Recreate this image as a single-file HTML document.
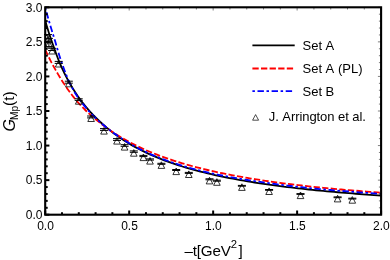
<!DOCTYPE html>
<html><head><meta charset="utf-8"><title>GMp</title>
<style>
html,body{margin:0;padding:0;background:#fff;}
body{width:390px;height:260px;overflow:hidden;}
svg{display:block;will-change:transform}
text{font-family:"Liberation Sans",sans-serif;fill:#000;font-kerning:none;}
</style></head><body>
<svg width="390" height="260" viewBox="0 0 390 260">
<rect width="390" height="260" fill="#fff"/>
<defs><clipPath id="c"><rect x="45.2" y="7.3" width="335.90000000000003" height="207.39999999999998"/></clipPath></defs>
<g clip-path="url(#c)" fill="none" stroke-linejoin="round"><g transform="translate(0,0.3)">
<path d="M45.20,20.21 L46.49,24.73 L47.78,29.04 L49.08,33.14 L50.37,37.07 L51.66,40.85 L52.95,44.51 L54.24,48.12 L55.54,51.70 L56.83,55.24 L58.12,58.68 L59.41,61.93 L60.70,64.98 L62.00,67.85 L63.29,70.61 L64.58,73.26 L65.87,75.81 L67.16,78.28 L68.45,80.66 L69.75,82.97 L71.04,85.20 L72.33,87.36 L73.62,89.45 L74.91,91.47 L76.21,93.44 L77.50,95.34 L78.79,97.19 L80.08,98.99 L81.37,100.73 L82.67,102.43 L83.96,104.08 L85.25,105.69 L86.54,107.25 L87.83,108.77 L89.13,110.26 L90.42,111.70 L91.71,113.11 L93.00,114.49 L94.29,115.84 L95.59,117.15 L99.20,120.67 L102.81,123.98 L106.43,127.10 L110.04,130.06 L113.66,132.87 L117.27,135.53 L120.88,138.04 L124.50,140.42 L128.11,142.67 L131.73,144.81 L135.34,146.84 L138.95,148.77 L142.57,150.60 L146.18,152.36 L149.80,154.03 L153.41,155.62 L157.02,157.15 L160.64,158.61 L164.25,160.01 L167.87,161.35 L171.48,162.63 L175.10,163.87 L178.71,165.05 L182.32,166.19 L185.94,167.29 L189.55,168.34 L193.17,169.36 L196.78,170.33 L200.39,171.28 L204.01,172.19 L207.62,173.06 L211.24,173.91 L214.85,174.73 L218.46,175.52 L222.08,176.29 L225.69,177.03 L229.31,177.75 L232.92,178.44 L236.54,179.12 L240.15,179.77 L243.76,180.40 L247.38,181.02 L250.99,181.61 L254.61,182.19 L258.22,182.75 L261.83,183.30 L265.45,183.83 L269.06,184.35 L272.68,184.85 L276.29,185.33 L279.90,185.81 L283.52,186.27 L287.13,186.72 L290.75,187.16 L294.36,187.59 L297.98,188.00 L301.59,188.41 L305.20,188.80 L308.82,189.19 L312.43,189.56 L316.05,189.93 L319.66,190.29 L323.27,190.64 L326.89,190.98 L330.50,191.31 L334.12,191.64 L337.73,191.96 L341.34,192.27 L344.96,192.57 L348.57,192.87 L352.19,193.16 L355.80,193.44 L359.42,193.72 L363.03,193.99 L366.64,194.26 L370.26,194.52 L373.87,194.77 L377.49,195.02 L381.10,195.27" stroke="#000" stroke-width="1.8"/>
<path d="M45.20,49.36 L46.49,52.14 L47.78,54.84 L49.08,57.47 L50.37,60.02 L51.66,62.51 L52.95,64.94 L54.24,67.30 L55.54,69.61 L56.83,71.86 L58.12,74.06 L59.41,76.20 L60.70,78.30 L62.00,80.36 L63.29,82.36 L64.58,84.32 L65.87,86.24 L67.16,88.12 L68.45,89.95 L69.75,91.73 L71.04,93.48 L72.33,95.17 L73.62,96.82 L74.91,98.43 L76.21,99.99 L77.50,101.50 L78.79,102.97 L80.08,104.40 L81.37,105.78 L82.67,107.13 L83.96,108.43 L85.25,109.70 L86.54,110.94 L87.83,112.15 L89.13,113.34 L90.42,114.50 L91.71,115.63 L93.00,116.75 L94.29,117.85 L95.59,118.93 L99.20,121.86 L102.81,124.67 L106.43,127.35 L110.04,129.92 L113.66,132.36 L117.27,134.69 L120.88,136.91 L124.50,139.03 L128.11,141.05 L131.73,142.98 L135.34,144.83 L138.95,146.59 L142.57,148.28 L146.18,149.91 L149.80,151.46 L153.41,152.95 L157.02,154.38 L160.64,155.76 L164.25,157.08 L167.87,158.35 L171.48,159.58 L175.10,160.76 L178.71,161.90 L182.32,163.00 L185.94,164.06 L189.55,165.08 L193.17,166.07 L196.78,167.02 L200.39,167.94 L204.01,168.84 L207.62,169.70 L211.24,170.54 L214.85,171.35 L218.46,172.13 L222.08,172.89 L225.69,173.63 L229.31,174.35 L232.92,175.04 L236.54,175.72 L240.15,176.37 L243.76,177.01 L247.38,177.63 L250.99,178.23 L254.61,178.82 L258.22,179.39 L261.83,179.94 L265.45,180.48 L269.06,181.00 L272.68,181.52 L276.29,182.01 L279.90,182.50 L283.52,182.97 L287.13,183.44 L290.75,183.89 L294.36,184.33 L297.98,184.75 L301.59,185.17 L305.20,185.58 L308.82,185.98 L312.43,186.37 L316.05,186.75 L319.66,187.12 L323.27,187.49 L326.89,187.84 L330.50,188.19 L334.12,188.53 L337.73,188.86 L341.34,189.19 L344.96,189.51 L348.57,189.82 L352.19,190.12 L355.80,190.42 L359.42,190.72 L363.03,191.00 L366.64,191.28 L370.26,191.56 L373.87,191.83 L377.49,192.09 L381.10,192.35" stroke="#f00" stroke-width="1.8" stroke-dasharray="6.3 2.3"/>
<path d="M45.20,6.99 L46.49,11.85 L47.78,16.55 L49.08,21.07 L50.37,25.45 L51.66,29.70 L52.95,33.83 L54.24,37.96 L55.54,42.27 L56.83,46.72 L58.12,51.15 L59.41,55.41 L60.70,59.42 L62.00,63.16 L63.29,66.74 L64.58,70.26 L65.87,73.67 L67.16,76.92 L68.45,79.97 L69.75,82.79 L71.04,85.35 L72.33,87.79 L73.62,90.14 L74.91,92.37 L76.21,94.50 L77.50,96.50 L78.79,98.37 L80.08,100.14 L81.37,101.85 L82.67,103.50 L83.96,105.10 L85.25,106.65 L86.54,108.16 L87.83,109.62 L89.13,111.04 L90.42,112.42 L91.71,113.77 L93.00,115.09 L94.29,116.37 L95.59,117.64 L99.20,121.01 L102.81,124.16 L106.43,127.13 L110.04,129.95 L113.66,132.64 L117.27,135.20 L120.88,137.66 L124.50,140.00 L128.11,142.23 L131.73,144.36 L135.34,146.38 L138.95,148.30 L142.57,150.12 L146.18,151.86 L149.80,153.51 L153.41,155.08 L157.02,156.58 L160.64,158.02 L164.25,159.39 L167.87,160.71 L171.48,161.97 L175.10,163.18 L178.71,164.33 L182.32,165.45 L185.94,166.52 L189.55,167.54 L193.17,168.53 L196.78,169.48 L200.39,170.40 L204.01,171.28 L207.62,172.13 L211.24,172.94 L214.85,173.72 L218.46,174.47 L222.08,175.20 L225.69,175.90 L229.31,176.59 L232.92,177.25 L236.54,177.89 L240.15,178.51 L243.76,179.11 L247.38,179.70 L250.99,180.28 L254.61,180.84 L258.22,181.39 L261.83,181.92 L265.45,182.44 L269.06,182.95 L272.68,183.44 L276.29,183.92 L279.90,184.39 L283.52,184.84 L287.13,185.28 L290.75,185.71 L294.36,186.13 L297.98,186.53 L301.59,186.92 L305.20,187.30 L308.82,187.68 L312.43,188.04 L316.05,188.39 L319.66,188.73 L323.27,189.06 L326.89,189.38 L330.50,189.70 L334.12,190.01 L337.73,190.31 L341.34,190.61 L344.96,190.90 L348.57,191.18 L352.19,191.47 L355.80,191.74 L359.42,192.01 L363.03,192.27 L366.64,192.53 L370.26,192.79 L373.87,193.03 L377.49,193.28 L381.10,193.52" stroke="#00f" stroke-width="1.8" stroke-dasharray="2.5 2.6 6.4 2.6"/>
</g></g>
<g><path d="M44.7,42.9 L48.0,36.3 L51.3,42.9 Z" fill="none" stroke="#000" stroke-width="0.8"/><path d="M44.0,34.6 H52.0 M44.0,42.0 H52.0 M48.0,34.6 V42.0" fill="none" stroke="#000" stroke-width="1.0"/><path d="M45.6,47.1 L48.9,40.5 L52.2,47.1 Z" fill="none" stroke="#000" stroke-width="0.8"/><path d="M44.9,38.4 H52.9 M44.9,46.6 H52.9 M48.9,38.4 V46.6" fill="none" stroke="#000" stroke-width="1.0"/><path d="M48.8,54.0 L52.1,47.4 L55.4,54.0 Z" fill="none" stroke="#000" stroke-width="0.8"/><path d="M48.1,48.3 H56.1 M48.1,50.5 H56.1 M52.1,48.3 V50.5" fill="none" stroke="#000" stroke-width="1.0"/><path d="M55.4,67.0 L58.7,60.4 L62.0,67.0 Z" fill="none" stroke="#000" stroke-width="0.8"/><path d="M54.7,61.4 H62.7 M54.7,63.4 H62.7 M58.7,61.4 V63.4" fill="none" stroke="#000" stroke-width="1.0"/><path d="M65.5,86.8 L68.8,80.2 L72.1,86.8 Z" fill="none" stroke="#000" stroke-width="0.8"/><path d="M64.8,81.2 H72.8 M64.8,83.2 H72.8 M68.8,81.2 V83.2" fill="none" stroke="#000" stroke-width="1.0"/><path d="M75.4,104.2 L78.7,97.6 L82.0,104.2 Z" fill="none" stroke="#000" stroke-width="0.8"/><path d="M74.7,98.8 H82.7 M74.7,100.4 H82.7 M78.7,98.8 V100.4" fill="none" stroke="#000" stroke-width="1.0"/><path d="M87.8,121.5 L91.1,114.9 L94.4,121.5 Z" fill="none" stroke="#000" stroke-width="0.8"/><path d="M87.1,116.0 H95.1 M87.1,117.9 H95.1 M91.1,116.0 V117.9" fill="none" stroke="#000" stroke-width="1.0"/><path d="M100.7,134.1 L104.0,127.5 L107.3,134.1 Z" fill="none" stroke="#000" stroke-width="0.8"/><path d="M100.0,128.6 H108.0 M100.0,130.4 H108.0 M104.0,128.6 V130.4" fill="none" stroke="#000" stroke-width="1.0"/><path d="M113.7,144.1 L117.0,137.5 L120.3,144.1 Z" fill="none" stroke="#000" stroke-width="0.8"/><path d="M113.0,138.6 H121.0 M113.0,140.4 H121.0 M117.0,138.6 V140.4" fill="none" stroke="#000" stroke-width="1.0"/><path d="M121.3,150.1 L124.6,143.5 L127.9,150.1 Z" fill="none" stroke="#000" stroke-width="0.8"/><path d="M120.6,144.7 H128.6 M120.6,146.3 H128.6 M124.6,144.7 V146.3" fill="none" stroke="#000" stroke-width="1.0"/><path d="M130.5,156.2 L133.8,149.6 L137.1,156.2 Z" fill="none" stroke="#000" stroke-width="0.8"/><path d="M129.8,150.9 H137.8 M129.8,152.3 H137.8 M133.8,150.9 V152.3" fill="none" stroke="#000" stroke-width="1.0"/><path d="M140.1,160.6 L143.4,154.0 L146.7,160.6 Z" fill="none" stroke="#000" stroke-width="0.8"/><path d="M139.4,155.4 H147.4 M139.4,156.6 H147.4 M143.4,155.4 V156.6" fill="none" stroke="#000" stroke-width="1.0"/><path d="M146.7,164.1 L150.0,157.5 L153.3,164.1 Z" fill="none" stroke="#000" stroke-width="0.8"/><path d="M146.0,158.9 H154.0 M146.0,160.1 H154.0 M150.0,158.9 V160.1" fill="none" stroke="#000" stroke-width="1.0"/><path d="M158.1,168.4 L161.4,161.8 L164.7,168.4 Z" fill="none" stroke="#000" stroke-width="0.8"/><path d="M157.4,163.3 H165.4 M157.4,164.3 H165.4 M161.4,163.3 V164.3" fill="none" stroke="#000" stroke-width="1.0"/><path d="M172.9,174.6 L176.2,168.0 L179.5,174.6 Z" fill="none" stroke="#000" stroke-width="0.8"/><path d="M172.2,169.5 H180.2 M172.2,170.5 H180.2 M176.2,169.5 V170.5" fill="none" stroke="#000" stroke-width="1.0"/><path d="M185.5,177.5 L188.8,170.9 L192.1,177.5 Z" fill="none" stroke="#000" stroke-width="0.8"/><path d="M184.8,172.4 H192.8 M184.8,173.4 H192.8 M188.8,172.4 V173.4" fill="none" stroke="#000" stroke-width="1.0"/><path d="M206.2,183.9 L209.5,177.3 L212.8,183.9 Z" fill="none" stroke="#000" stroke-width="0.8"/><path d="M205.5,178.8 H213.5 M205.5,179.8 H213.5 M209.5,178.8 V179.8" fill="none" stroke="#000" stroke-width="1.0"/><path d="M213.6,185.3 L216.9,178.7 L220.2,185.3 Z" fill="none" stroke="#000" stroke-width="0.8"/><path d="M212.9,180.2 H220.9 M212.9,181.2 H220.9 M216.9,180.2 V181.2" fill="none" stroke="#000" stroke-width="1.0"/><path d="M238.6,190.4 L241.9,183.8 L245.2,190.4 Z" fill="none" stroke="#000" stroke-width="0.8"/><path d="M237.9,185.4 H245.9 M237.9,186.2 H245.9 M241.9,185.4 V186.2" fill="none" stroke="#000" stroke-width="1.0"/><path d="M265.8,194.5 L269.1,187.9 L272.4,194.5 Z" fill="none" stroke="#000" stroke-width="0.8"/><path d="M265.1,189.5 H273.1 M265.1,190.3 H273.1 M269.1,189.5 V190.3" fill="none" stroke="#000" stroke-width="1.0"/><path d="M297.2,198.6 L300.5,192.0 L303.8,198.6 Z" fill="none" stroke="#000" stroke-width="0.8"/><path d="M296.5,193.6 H304.5 M296.5,194.4 H304.5 M300.5,193.6 V194.4" fill="none" stroke="#000" stroke-width="1.0"/><path d="M334.3,201.9 L337.6,195.3 L340.9,201.9 Z" fill="none" stroke="#000" stroke-width="0.8"/><path d="M333.6,196.9 H341.6 M333.6,197.7 H341.6 M337.6,196.9 V197.7" fill="none" stroke="#000" stroke-width="1.0"/><path d="M349.0,203.2 L352.3,196.6 L355.6,203.2 Z" fill="none" stroke="#000" stroke-width="0.8"/><path d="M348.3,198.2 H356.3 M348.3,199.0 H356.3 M352.3,198.2 V199.0" fill="none" stroke="#000" stroke-width="1.0"/></g>
<g><path d="M45.20,214.7 V210.5" stroke="#000" stroke-width="2"/><path d="M45.20,7.3 V10.5" stroke="#000" stroke-width="0.5"/><path d="M62.00,214.7 V212.2" stroke="#000" stroke-width="2"/><path d="M62.00,7.3 V9.5" stroke="#000" stroke-width="0.5"/><path d="M78.79,214.7 V212.2" stroke="#000" stroke-width="2"/><path d="M78.79,7.3 V9.5" stroke="#000" stroke-width="0.5"/><path d="M95.59,214.7 V212.2" stroke="#000" stroke-width="2"/><path d="M95.59,7.3 V9.5" stroke="#000" stroke-width="0.5"/><path d="M112.38,214.7 V212.2" stroke="#000" stroke-width="2"/><path d="M112.38,7.3 V9.5" stroke="#000" stroke-width="0.5"/><path d="M129.18,214.7 V210.5" stroke="#000" stroke-width="2"/><path d="M129.18,7.3 V10.5" stroke="#000" stroke-width="0.5"/><path d="M145.97,214.7 V212.2" stroke="#000" stroke-width="2"/><path d="M145.97,7.3 V9.5" stroke="#000" stroke-width="0.5"/><path d="M162.76,214.7 V212.2" stroke="#000" stroke-width="2"/><path d="M162.76,7.3 V9.5" stroke="#000" stroke-width="0.5"/><path d="M179.56,214.7 V212.2" stroke="#000" stroke-width="2"/><path d="M179.56,7.3 V9.5" stroke="#000" stroke-width="0.5"/><path d="M196.36,214.7 V212.2" stroke="#000" stroke-width="2"/><path d="M196.36,7.3 V9.5" stroke="#000" stroke-width="0.5"/><path d="M213.15,214.7 V210.5" stroke="#000" stroke-width="2"/><path d="M213.15,7.3 V10.5" stroke="#000" stroke-width="0.5"/><path d="M229.95,214.7 V212.2" stroke="#000" stroke-width="2"/><path d="M229.95,7.3 V9.5" stroke="#000" stroke-width="0.5"/><path d="M246.74,214.7 V212.2" stroke="#000" stroke-width="2"/><path d="M246.74,7.3 V9.5" stroke="#000" stroke-width="0.5"/><path d="M263.54,214.7 V212.2" stroke="#000" stroke-width="2"/><path d="M263.54,7.3 V9.5" stroke="#000" stroke-width="0.5"/><path d="M280.33,214.7 V212.2" stroke="#000" stroke-width="2"/><path d="M280.33,7.3 V9.5" stroke="#000" stroke-width="0.5"/><path d="M297.12,214.7 V210.5" stroke="#000" stroke-width="2"/><path d="M297.12,7.3 V10.5" stroke="#000" stroke-width="0.5"/><path d="M313.92,214.7 V212.2" stroke="#000" stroke-width="2"/><path d="M313.92,7.3 V9.5" stroke="#000" stroke-width="0.5"/><path d="M330.72,214.7 V212.2" stroke="#000" stroke-width="2"/><path d="M330.72,7.3 V9.5" stroke="#000" stroke-width="0.5"/><path d="M347.51,214.7 V212.2" stroke="#000" stroke-width="2"/><path d="M347.51,7.3 V9.5" stroke="#000" stroke-width="0.5"/><path d="M364.31,214.7 V212.2" stroke="#000" stroke-width="2"/><path d="M364.31,7.3 V9.5" stroke="#000" stroke-width="0.5"/><path d="M381.10,214.7 V210.5" stroke="#000" stroke-width="2"/><path d="M381.10,7.3 V10.5" stroke="#000" stroke-width="0.5"/><path d="M45.2,214.70 H49.400000000000006" stroke="#000" stroke-width="2"/><path d="M381.1,214.70 H377.90000000000003" stroke="#000" stroke-width="0.5"/><path d="M45.2,207.79 H47.7" stroke="#000" stroke-width="2"/><path d="M381.1,207.79 H378.90000000000003" stroke="#000" stroke-width="0.5"/><path d="M45.2,200.87 H47.7" stroke="#000" stroke-width="2"/><path d="M381.1,200.87 H378.90000000000003" stroke="#000" stroke-width="0.5"/><path d="M45.2,193.96 H47.7" stroke="#000" stroke-width="2"/><path d="M381.1,193.96 H378.90000000000003" stroke="#000" stroke-width="0.5"/><path d="M45.2,187.05 H47.7" stroke="#000" stroke-width="2"/><path d="M381.1,187.05 H378.90000000000003" stroke="#000" stroke-width="0.5"/><path d="M45.2,180.13 H49.400000000000006" stroke="#000" stroke-width="2"/><path d="M381.1,180.13 H377.90000000000003" stroke="#000" stroke-width="0.5"/><path d="M45.2,173.22 H47.7" stroke="#000" stroke-width="2"/><path d="M381.1,173.22 H378.90000000000003" stroke="#000" stroke-width="0.5"/><path d="M45.2,166.31 H47.7" stroke="#000" stroke-width="2"/><path d="M381.1,166.31 H378.90000000000003" stroke="#000" stroke-width="0.5"/><path d="M45.2,159.39 H47.7" stroke="#000" stroke-width="2"/><path d="M381.1,159.39 H378.90000000000003" stroke="#000" stroke-width="0.5"/><path d="M45.2,152.48 H47.7" stroke="#000" stroke-width="2"/><path d="M381.1,152.48 H378.90000000000003" stroke="#000" stroke-width="0.5"/><path d="M45.2,145.57 H49.400000000000006" stroke="#000" stroke-width="2"/><path d="M381.1,145.57 H377.90000000000003" stroke="#000" stroke-width="0.5"/><path d="M45.2,138.65 H47.7" stroke="#000" stroke-width="2"/><path d="M381.1,138.65 H378.90000000000003" stroke="#000" stroke-width="0.5"/><path d="M45.2,131.74 H47.7" stroke="#000" stroke-width="2"/><path d="M381.1,131.74 H378.90000000000003" stroke="#000" stroke-width="0.5"/><path d="M45.2,124.83 H47.7" stroke="#000" stroke-width="2"/><path d="M381.1,124.83 H378.90000000000003" stroke="#000" stroke-width="0.5"/><path d="M45.2,117.91 H47.7" stroke="#000" stroke-width="2"/><path d="M381.1,117.91 H378.90000000000003" stroke="#000" stroke-width="0.5"/><path d="M45.2,111.00 H49.400000000000006" stroke="#000" stroke-width="2"/><path d="M381.1,111.00 H377.90000000000003" stroke="#000" stroke-width="0.5"/><path d="M45.2,104.09 H47.7" stroke="#000" stroke-width="2"/><path d="M381.1,104.09 H378.90000000000003" stroke="#000" stroke-width="0.5"/><path d="M45.2,97.17 H47.7" stroke="#000" stroke-width="2"/><path d="M381.1,97.17 H378.90000000000003" stroke="#000" stroke-width="0.5"/><path d="M45.2,90.26 H47.7" stroke="#000" stroke-width="2"/><path d="M381.1,90.26 H378.90000000000003" stroke="#000" stroke-width="0.5"/><path d="M45.2,83.35 H47.7" stroke="#000" stroke-width="2"/><path d="M381.1,83.35 H378.90000000000003" stroke="#000" stroke-width="0.5"/><path d="M45.2,76.43 H49.400000000000006" stroke="#000" stroke-width="2"/><path d="M381.1,76.43 H377.90000000000003" stroke="#000" stroke-width="0.5"/><path d="M45.2,69.52 H47.7" stroke="#000" stroke-width="2"/><path d="M381.1,69.52 H378.90000000000003" stroke="#000" stroke-width="0.5"/><path d="M45.2,62.61 H47.7" stroke="#000" stroke-width="2"/><path d="M381.1,62.61 H378.90000000000003" stroke="#000" stroke-width="0.5"/><path d="M45.2,55.69 H47.7" stroke="#000" stroke-width="2"/><path d="M381.1,55.69 H378.90000000000003" stroke="#000" stroke-width="0.5"/><path d="M45.2,48.78 H47.7" stroke="#000" stroke-width="2"/><path d="M381.1,48.78 H378.90000000000003" stroke="#000" stroke-width="0.5"/><path d="M45.2,41.87 H49.400000000000006" stroke="#000" stroke-width="2"/><path d="M381.1,41.87 H377.90000000000003" stroke="#000" stroke-width="0.5"/><path d="M45.2,34.95 H47.7" stroke="#000" stroke-width="2"/><path d="M381.1,34.95 H378.90000000000003" stroke="#000" stroke-width="0.5"/><path d="M45.2,28.04 H47.7" stroke="#000" stroke-width="2"/><path d="M381.1,28.04 H378.90000000000003" stroke="#000" stroke-width="0.5"/><path d="M45.2,21.13 H47.7" stroke="#000" stroke-width="2"/><path d="M381.1,21.13 H378.90000000000003" stroke="#000" stroke-width="0.5"/><path d="M45.2,14.21 H47.7" stroke="#000" stroke-width="2"/><path d="M381.1,14.21 H378.90000000000003" stroke="#000" stroke-width="0.5"/><path d="M45.2,7.30 H49.400000000000006" stroke="#000" stroke-width="2"/><path d="M381.1,7.30 H377.90000000000003" stroke="#000" stroke-width="0.5"/></g>
<rect x="45.2" y="7.3" width="335.90000000000003" height="207.39999999999998" fill="none" stroke="#000" stroke-width="2.1"/>
<g><text x="42.4" y="219.05" text-anchor="end" font-size="12">0.0</text><text x="42.4" y="184.48" text-anchor="end" font-size="12">0.5</text><text x="42.4" y="149.92" text-anchor="end" font-size="12">1.0</text><text x="42.4" y="115.35" text-anchor="end" font-size="12">1.5</text><text x="42.4" y="80.78" text-anchor="end" font-size="12">2.0</text><text x="42.4" y="46.22" text-anchor="end" font-size="12">2.5</text><text x="42.4" y="11.65" text-anchor="end" font-size="12">3.0</text><text x="45.50" y="230" text-anchor="middle" font-size="12">0.0</text><text x="129.48" y="230" text-anchor="middle" font-size="12">0.5</text><text x="213.45" y="230" text-anchor="middle" font-size="12">1.0</text><text x="297.43" y="230" text-anchor="middle" font-size="12">1.5</text><text x="381.40" y="230" text-anchor="middle" font-size="12">2.0</text></g>
<!-- legend -->
<path d="M252.4,45.4 H294.7" stroke="#000" stroke-width="1.8"/>
<path d="M252.4,68.5 H294.7" stroke="#f00" stroke-width="1.8" stroke-dasharray="6.3 2.3"/>
<path d="M252.4,91.1 H294.7" stroke="#00f" stroke-width="1.8" stroke-dasharray="2.5 2.6 6.4 2.6"/>
<path d="M252.6,120.2 L255.6,114.6 L258.6,120.2 Z" fill="#fff" stroke="#000" stroke-width="0.7"/>
<text x="302.5" y="49.9" font-size="13">Set A</text>
<text x="302.5" y="73.0" font-size="13">Set A (PL)</text>
<text x="302.5" y="95.7" font-size="13">Set B</text>
<text x="268.8" y="120.6" font-size="13" letter-spacing="-0.07">J. Arrington et al.</text>
<!-- axis labels -->
<text x="184.5" y="255.6" font-size="15.2" letter-spacing="-0.2">–t[GeV<tspan font-size="11.3" dy="-7.4" dx="0.2">2</tspan><tspan dy="7.4" dx="1.6">]</tspan></text>
<g transform="translate(14.6,131.5) rotate(-90)"><text x="0" y="0" font-size="16"><tspan font-style="italic">G</tspan><tspan font-size="10.3" x="11.5" dy="3.1">Mp</tspan><tspan x="25.6" dy="-3.3" font-size="15.3">(t)</tspan></text></g>
</svg>
</body></html>
